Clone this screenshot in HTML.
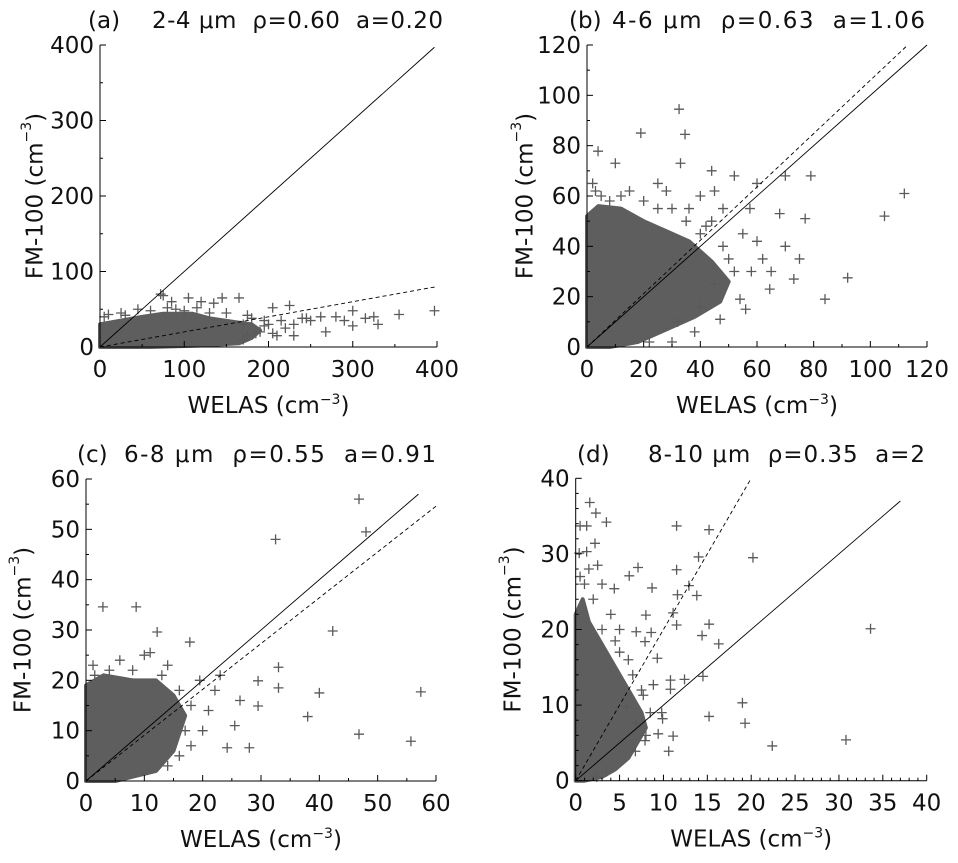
<!DOCTYPE html>
<html><head><meta charset="utf-8">
<style>
html,body{margin:0;padding:0;background:#fff;}
svg{display:block;font-family:"DejaVu Sans","Liberation Sans",sans-serif;}
</style></head>
<body>
<svg id="chart" width="958" height="863" viewBox="0 0 958 863" xmlns="http://www.w3.org/2000/svg"></svg>
<script>
// ---- data (x,y pairs in data units) ----
const coreA = [[0,0],[0,30],[20,34],[50,40],[75,44],[110,44],[130,38],[160,33],[180,30],[190,22],[180,12],[165,5],[120,2],[60,0]];
const ptsA = [[10,43],[25,45],[45,50],[72,70],[75,68],[85,60],[105,65],[120,60],[135,58],[145,65],[165,65],[175,42],[200,30],[205,52],[215,35],[225,55],[230,30],[240,38],[250,35],[262,40],[268,20],[280,40],[290,35],[300,48],[300,28],[315,38],[325,40],[330,30],[355,43],[397,48],[190,20],[210,15],[170,10],[230,15],[180,38],[195,35],[220,25],[245,38],[5,40],[30,42],[60,48],[90,50],[115,52],[150,45],[170,30],[185,18],[100,48],[80,52],[130,45],[195,28],[205,18],[175,15]];
const fitA = [0.20];

const coreB = [[0,0],[0,52],[4,56],[12,55],[20,50],[28,46],[36,42],[44,34],[50,26],[47,18],[38,12],[28,7],[18,2],[8,0]];
const ptsB = [[3.9,77.8],[10,73],[32.5,94.5],[34.6,84.5],[33,73],[44,70],[52,68],[60,65],[70,68],[79,68],[57.5,55],[68,53],[77,51],[112,61],[105,52],[92,27.5],[84,19],[73,27],[64.5,23],[54,19],[47,11],[22,2],[19,85],[40,60],[45,62],[48,55],[25,65],[15,62],[5,60],[55,45],[60,42],[62,35],[50,35],[70,40],[75,35],[2,65],[8,58],[28,62],[36,55],[42,48],[58,30],[65,30],[56,15],[38,6],[30,2],[20,58],[30,55],[35,50],[40,45],[48,40],[52,30],[45,25],[3,62],[12,60],[25,55],[44,50],[40,16],[32,10]];
const fitB = [1.06];

const coreC = [[0,0],[0,19],[3,21],[8,20],[12,20],[15,17],[17,13],[15,6],[12,2],[5,0]];
const ptsC = [[2.9,34.6],[8.6,34.6],[12.2,29.6],[17.8,27.6],[46.8,56],[48,49.5],[32.5,48],[42.3,29.8],[38,12.8],[40,17.5],[33,22.6],[33,18.5],[46.8,9.3],[55.7,7.9],[57.4,17.7],[29.5,14.9],[29.5,19.9],[28,6.6],[24.2,6.6],[25.5,11],[26.4,16],[22.1,18],[23,21],[19.5,20],[1.2,23],[1.5,21],[5.8,24],[10,25],[14,23],[20,10],[18,7],[14,3],[21,14],[11,25.5],[4,22],[8,22],[13,21],[16,18],[18,15],[17,10],[16,5]];
const fitC = [0.91];

const coreD = [[0,0],[0,22],[0.8,24],[1.5,21],[2.5,19],[3.5,17],[4.5,15],[5.5,13],[6.5,11],[7.5,9],[8,7],[7,5],[6,3],[4.5,1.5],[3,0.5],[1,0]];
const ptsD = [[1.6,36.8],[2.3,35.4],[3.5,34.2],[0.5,33.7],[1.25,33.7],[2.2,31.4],[0.4,30.1],[1.25,30.3],[11.5,33.7],[15.2,33.2],[20.2,29.5],[14,29.6],[11.5,27.9],[7.1,28.2],[6.1,27.1],[4.4,25.4],[8.7,25.5],[12.9,25.8],[13.8,24.5],[11.6,24.6],[11.1,22.2],[11.5,20.6],[15.2,20.7],[14.4,19.2],[16.3,18.1],[33.6,20.1],[8,21.9],[6.9,19.7],[8.6,19.6],[9.3,16.2],[7.9,18.4],[12.4,13.4],[10.8,13.3],[10.8,12.1],[14.5,13.8],[19,10.3],[15.2,8.5],[19.3,7.6],[22.4,4.6],[30.8,5.4],[11.1,5.9],[10.6,3.9],[9.8,9],[9.9,8.2],[9.4,6.2],[8.85,12.7],[7.7,11.3],[5.8,9.8],[6.9,7.6],[7.9,5.3],[6.8,3.9],[3.5,1.2],[2.4,0.5],[1.5,28],[2.5,28.5],[3,26],[2,24],[4,22],[5,20],[6,16],[4.5,18.5],[1,26],[0.5,27],[3,20],[5,17],[6.5,14],[7.5,12],[8.5,9],[8,6]];
const fitD = [2];

const titlesLetter = ["(a)","(b)","(c)","(d)"];
const titlesText = ["2-4 μm  ρ=0.60  a=0.20","4-6 μm  ρ=0.63  a=1.06","6-8 μm  ρ=0.55  a=0.91","8-10 μm  ρ=0.35  a=2"];
const ticksA = [0,100,200,300,400];
const ticksB = [0,20,40,60,80,100,120];
const ticksC = [0,10,20,30,40,50,60];
const ticksD = [0,5,10,15,20,25,30,35,40];
const ticksDy = [0,10,20,30,40];

const NS="http://www.w3.org/2000/svg";
const svg=document.getElementById('chart');
function mk(tag,attrs,parent){const e=document.createElementNS(NS,tag);for(const k in attrs)e.setAttribute(k,attrs[k]);(parent||svg).appendChild(e);return e;}

const FS=23;
const panels=[
 {id:'a',x0:100,x1:437,y0:347,y1:45,max:400,xt:ticksA,yt:ticksA,xm:50,ym:50,core:coreA,pts:ptsA,fit:fitA,ltx:88,ttx:152,ttw:291,tty:28,lineEnd:397,ylx:36,xlend:400},
 {id:'b',x0:587,x1:927,y0:347,y1:45,max:120,xt:ticksB,yt:ticksB,xm:10,ym:10,core:coreB,pts:ptsB,fit:fitB,ltx:569,ttx:612,ttw:313,tty:28,lineEnd:120,ylx:526,xlend:120},
 {id:'c',x0:86,x1:436,y0:781,y1:479,max:60,xt:ticksC,yt:ticksC,xm:5,ym:5,core:coreC,pts:ptsC,fit:fitC,ltx:77,ttx:124,ttw:312,tty:462,lineEnd:57,ylx:24,xlend:60},
 {id:'d',x0:575.7,x1:926.7,y0:780.7,y1:478.3,max:40,xt:ticksD,yt:ticksDy,xm:1,ym:2,core:coreD,pts:ptsD,fit:fitD,ltx:577,ttx:648,ttw:277,tty:462,lineEnd:37,ylx:514,xlend:20}
];

panels.forEach((p,i)=>{
 const g=mk('g',{});
 
 
 const sx=v=>p.x0+(p.x1-p.x0)*v/p.max;
 const sy=v=>p.y0-(p.y0-p.y1)*v/p.max;
 const poly=mk('polygon',{points:p.core.map(c=>sx(c[0])+','+sy(c[1])).join(' '),fill:'#5e5e5e',stroke:'#5e5e5e','stroke-width':4,'stroke-linejoin':'round'},g);
 
 
 p.pts.forEach(pt=>{
  const x=sx(pt[0]),y=sy(pt[1]);
  const m=mk('path',{d:`M${x-5},${y}H${x+5}M${x},${y-5}V${y+5}`,stroke:'#5a5a5a','stroke-width':1.3,fill:'none'},g);
  
  
 });
 const l1=mk('line',{x1:sx(0),y1:sy(0),x2:sx(p.lineEnd),y2:sy(p.lineEnd),stroke:'#000','stroke-width':0.9},g);
 
 
 const a=p.fit[0];
 let xe=p.xlend; if(a*xe>p.max) xe=p.max/a;
 const l2=mk('line',{x1:sx(0),y1:sy(0),x2:sx(xe),y2:sy(a*xe),stroke:'#000','stroke-width':0.9,'stroke-dasharray':'4,3'},g);
 
 
 const ax=mk('path',{d:`M${p.x0},${p.y1}V${p.y0}H${p.x1}`,stroke:'#000','stroke-width':1,fill:'none'},g);
 
 
 for(let v=0;v<=p.max+1e-9;v+=p.xm){const x=sx(v);const maj=p.xt.includes(v);mk('line',{x1:x,y1:p.y0,x2:x,y2:p.y0-(maj?6:3),stroke:'#000','stroke-width':1},g);}
 for(let v=0;v<=p.max+1e-9;v+=p.ym){const y=sy(v);const maj=p.yt.includes(v);mk('line',{x1:p.x0,y1:y,x2:p.x0+(maj?6:3),y2:y,stroke:'#000','stroke-width':1},g);}
 p.xt.forEach(v=>{const t=mk('text',{x:sx(v),y:p.y0+30,'text-anchor':'middle','font-size':FS,fill:'#111'},g);t.textContent=v;
  });
 p.yt.forEach(v=>{const t=mk('text',{x:p.x0-6,y:sy(v)+8,'text-anchor':'end','font-size':FS,fill:'#111'},g);t.textContent=v;
  });
 const xl=mk('text',{x:(p.x0+p.x1)/2,y:p.y0+66,'text-anchor':'middle','font-size':FS,fill:'#111'},g);
 xl.innerHTML='WELAS (cm<tspan dy="-9" font-size="14">−3</tspan><tspan dy="9">)</tspan>';
 
 const yc=(p.y0+p.y1)/2;
 const yl=mk('text',{x:p.ylx,y:yc,'text-anchor':'middle','font-size':FS,fill:'#111',transform:`rotate(-90 ${p.ylx} ${yc})`,'dominant-baseline':'middle'},g);
 yl.innerHTML='FM-100 (cm<tspan dy="-9" font-size="14">−3</tspan><tspan dy="9">)</tspan>';
 
 const lt=mk('text',{x:p.ltx,y:p.tty,'font-size':FS,fill:'#111'},g);lt.textContent=titlesLetter[i];
 
 const tt=mk('text',{x:p.ttx,y:p.tty,'font-size':FS,fill:'#111',textLength:p.ttw,lengthAdjust:'spacing'},g);tt.textContent=titlesText[i];
 tt.setAttribute('style','white-space:pre');
 
});
</script>
</body></html>
